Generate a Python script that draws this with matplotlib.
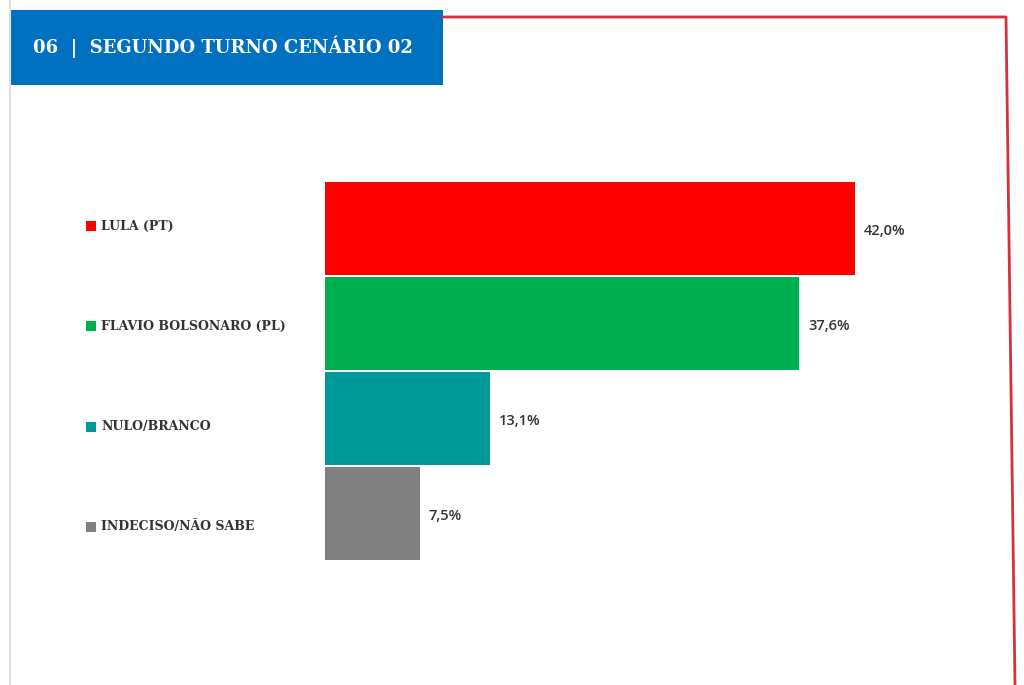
import matplotlib.pyplot as plt
from matplotlib.patches import Rectangle
from matplotlib.lines import Line2D

# dados
categorias = ["LULA (PT)", "FLAVIO BOLSONARO (PL)", "NULO/BRANCO", "INDECISO/NÃO SABE"]
valores = [42.0, 37.6, 13.1, 7.5]
cores = ["#FF0000", "#00B050", "#009999", "#808080"]
titulo = "06  |  SEGUNDO TURNO CENÁRIO 02"

W, H = 1024, 685
fig = plt.figure(figsize=(W / 100, H / 100), dpi=100)
fig.patch.set_facecolor("white")

def fx(px):
    return px / W

def fy(py):
    return 1 - py / H

# moldura
fig.add_artist(Line2D([fx(10), fx(10)], [fy(0), fy(H)], color="#D9D9D9", lw=1.2))
fig.add_artist(Line2D([fx(443), fx(1006), fx(1015)], [fy(17), fy(17), fy(H)],
                      color="#D7303B", lw=2))

# faixa do titulo
fig.add_artist(Rectangle((fx(11), fy(85)), fx(432), 75 / H, transform=fig.transFigure,
                         facecolor="#0070C0", edgecolor="none"))
fig.text(fx(33), fy(47), titulo, color="white", fontsize=13, fontweight="bold",
         family="DejaVu Serif", va="center", ha="left")

# barras
ax = fig.add_axes([fx(325), fy(561), fx(530), 380 / H])
pos = list(range(len(valores)))
ax.barh(pos, valores, height=0.98, color=cores)
ax.set_xlim(0, 42.0)
ax.set_ylim(len(valores) - 0.5, -0.5)
ax.axis("off")

for i, v in enumerate(valores):
    ax.annotate(f"{v:.1f}%".replace(".", ","), (v, i), xytext=(6.5, -1.5),
                textcoords="offset points", va="center", ha="left",
                fontsize=10.5, fontweight="semibold", family="Open Sans", color="#333333")

# legenda a esquerda
for i, c in enumerate(categorias):
    yc = 226 + i * 100.3
    fig.add_artist(Rectangle((fx(86), fy(yc + 5)), fx(10), 10 / H, transform=fig.transFigure,
                             facecolor=cores[i], edgecolor="none"))
    fig.text(fx(101), fy(yc), c, fontsize=9, fontweight="bold", family="DejaVu Serif",
             color="#333333", va="center", ha="left")

fig.savefig("out.png", dpi=100)
